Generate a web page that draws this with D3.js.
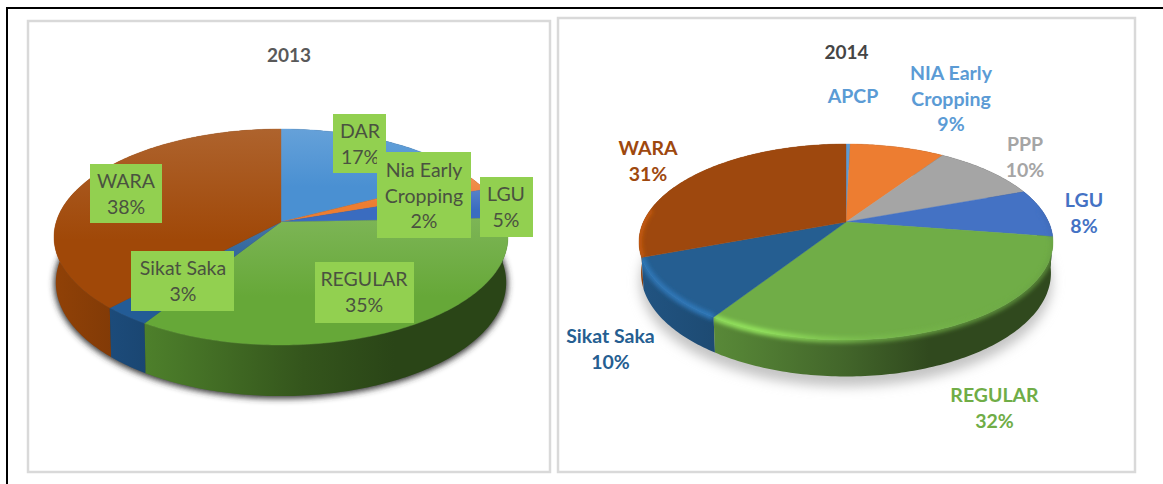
<!DOCTYPE html>
<html>
<head>
<meta charset="utf-8">
<style>
html,body{margin:0;padding:0;background:#fff;overflow:hidden}
text{font-family:Lato,"Open Sans",sans-serif}
</style>
<script src="https://cdnjs.cloudflare.com/ajax/libs/d3/7.8.5/d3.min.js"></script>
</head>
<body>
<svg id="c" width="1163" height="484"></svg>
<script>
// ---- data ----
const categories2013 = ["DAR","Nia Early Cropping","LGU","REGULAR","Sikat Saka","WARA"];
const values2013     = [17.4, 2.4, 4.6, 34.6, 3, 38];
const colors2013     = ["#4a90d2","#ed7d31","#3a6cc0","#66a838","#235c96","#a04808"];
const labelLines2013 = [["DAR","17%"],["Nia Early","Cropping","2%"],["LGU","5%"],["REGULAR","35%"],["Sikat Saka","3%"],["WARA","38%"]];

const categories2014 = ["APCP","NIA Early Cropping","PPP","LGU","REGULAR","Sikat Saka","WARA"];
const values2014     = [0.4, 9, 10, 8, 31.7, 10.2, 30.7];
const colors2014     = ["#5b9bd5","#ed7d31","#a5a5a5","#4472c4","#70ad47","#255e91","#9e480e"];
const labelLines2014 = [["APCP"],["NIA Early","Cropping","9%"],["PPP","10%"],["LGU","8%"],["REGULAR","32%"],["Sikat Saka","10%"],["WARA","31%"]];
const labelColors2014 = ["#5b9bd5","#5b9bd5","#a5a5a5","#4472c4","#70ad47","#255e91","#9e480e"];

// ---- layout (not data) ----
const boxes2013 = [[333,114,53,59],[377,152,94,86],[480,177,53,60],[315,262,99,61],[131,251,103,60],[90,164,72,59]];
const textAt2013 = [[360,138],[424,177],[506,201],[364,286],[183,275],[126,188]];
const textAt2014 = [[853,103],[951,80],[1025,151],[1084,207],[994.5,402],[610.5,343],[648,155]];
const lineStep = 25.5;

const svg = d3.select("#c");
const defs = svg.append("defs");
const blur = (id, s) => defs.append("filter").attr("id", id)
  .attr("filterUnits","userSpaceOnUse").attr("x",0).attr("y",0).attr("width",1163).attr("height",484)
  .append("feGaussianBlur").attr("stdDeviation", s);
blur("b2",2); blur("b3",3); blur("b6",6);

svg.append("rect").attr("width",1163).attr("height",484).attr("fill","#fff");
// outer black frame
svg.append("path").attr("d", d3.line()([[7,484],[7,8],[1163,8]]))
  .attr("fill","none").attr("stroke","#000").attr("stroke-width",2);
// panels
[[28,21,522,451],[558,18,577,454]].forEach(p=>{
  svg.append("rect").attr("x",p[0]).attr("y",p[1]).attr("width",p[2]).attr("height",p[3])
    .attr("fill","#fff").attr("stroke","#d9d9d9").attr("stroke-width",2.5);
});

function pie3d(o){
  const g = svg.append("g");
  const A = o.rx*Math.sqrt(1-o.k*o.k), B = o.back*(1+o.k);
  // perspective projection of the unit-disc point at clockwise-from-top angle a
  const pt = a => {
    const u = Math.sin(a), v = -Math.cos(a), den = 1-o.k*v;
    return [o.cx + A*u/den, o.cy + B*v/den];
  };
  const low = a => {
    const u = Math.sin(a), v = -Math.cos(a), den = 1-o.k*v;
    return [o.cx + o.shrink*A*u/den, o.cy + o.shrink*B*v/den + o.depth/den];
  };
  const arcs = d3.pie().sort(null).startAngle(0).endAngle(2*Math.PI)(o.values);
  const samples = (a0,a1) => { const n=Math.max(2,Math.ceil((a1-a0)*60));
    return d3.range(n+1).map(i=>a0+(a1-a0)*i/n); };
  const line = d3.line();
  const wallPath = (a0,a1) => {
    const s = samples(a0,a1);
    return line(s.map(pt).concat(s.slice().reverse().map(low)))+"Z";
  };
  const topPath = (a0,a1) => line([[o.cx,o.cy]].concat(samples(a0,a1).map(pt)))+"Z";
  const all = samples(0,2*Math.PI);
  const id = o.id;

  // shadow below the pie
  g.append("path").attr("d",line(all.map(low))+"Z").attr("fill",o.shadow.color).attr("stroke",o.shadow.color)
    .attr("stroke-width",o.shadow.spread).attr("transform",`translate(0,${o.shadow.dy})`)
    .attr("filter",`url(#${o.shadow.filter})`);

  // wall shading across the pie width
  arcs.forEach((d,i)=>{
    const c = o.colors[i];
    const gr = defs.append("linearGradient").attr("id",`${id}w${i}`).attr("gradientUnits","userSpaceOnUse")
      .attr("x1",o.cx-o.rx).attr("x2",o.cx+o.rx).attr("y1",0).attr("y2",0);
    o.wallStops.forEach(s=>gr.append("stop").attr("offset",s[0]).attr("stop-color",d3.color(c).darker(s[1]).formatHex()));
  });
  // walls, back to front
  const order = d3.range(arcs.length).sort((p,q)=>
    (-Math.cos((arcs[p].startAngle+arcs[p].endAngle)/2))-(-Math.cos((arcs[q].startAngle+arcs[q].endAngle)/2)));
  order.forEach(i=>{
    const d = arcs[i];
    g.append("path").attr("d",wallPath(d.startAngle,d.endAngle)).attr("fill",`url(#${id}w${i})`);
  });
  // top surface
  arcs.forEach((d,i)=>{
    const c = o.colors[i];
    let fill = c;
    if(o.sheen){
      const gr = defs.append("linearGradient").attr("id",`${id}t${i}`).attr("x1",0).attr("x2",0).attr("y1",0).attr("y2",1);
      gr.append("stop").attr("offset",0).attr("stop-color",d3.interpolateRgb(c,"#fff")(0.15));
      gr.append("stop").attr("offset",0.62).attr("stop-color",c);
      fill = `url(#${id}t${i})`;
    }
    g.append("path").attr("d",topPath(d.startAngle,d.endAngle)).attr("fill",fill).attr("stroke",fill).attr("stroke-width",0.4);
  });
  // soft bevel along the rim
  if(o.bevel){
    arcs.forEach((d,i)=>{
      const s = samples(d.startAngle,d.endAngle).filter(a=>-Math.cos(a)>-0.15);
      if(s.length<2) return;
      const cp = defs.append("clipPath").attr("id",`${id}c${i}`);
      cp.append("path").attr("d",wallPath(d.startAngle,d.endAngle));
      cp.append("path").attr("d",topPath(d.startAngle,d.endAngle));
      const c = d3.color(o.colors[i]);
      const gr = defs.append("linearGradient").attr("id",`${id}r${i}`).attr("gradientUnits","userSpaceOnUse")
        .attr("x1",o.cx-o.rx).attr("x2",o.cx+o.rx).attr("y1",0).attr("y2",0);
      o.bevelStops.forEach(b=>gr.append("stop").attr("offset",b[0])
        .attr("stop-color",c.brighter(b[1]).formatHex()).attr("stop-opacity",b[2]));
      g.append("g").attr("clip-path",`url(#${id}c${i})`).append("path")
        .attr("d",line(s.map(pt))).attr("fill","none")
        .attr("stroke",`url(#${id}r${i})`).attr("stroke-width",6)
        .attr("filter","url(#b2)");
    });
  }
}

// 2013
pie3d({id:"a",values:values2013,colors:colors2013,cx:281,cy:222,rx:227,back:93,k:0.139,depth:44.8,shrink:0.992,
  sheen:true,bevel:false,
  wallStops:[[0,0.3],[0.25,0.9],[0.55,1.9],[0.75,2.5],[1,2.5]],
  shadow:{color:"#333",spread:3,dy:1,filter:"b3"}});
// 2014
pie3d({id:"b",values:values2014,colors:colors2014,cx:846,cy:222,rx:207,back:78,k:0.204,depth:30,shrink:0.99,
  sheen:false,bevel:true,
  bevelStops:[[0,0.7,0.9],[0.3,0.8,1],[0.55,0.3,0.7],[1,-0.2,0.7]],
  wallStops:[[0,0.3],[0.25,0.8],[0.5,1.5],[0.7,2.4],[1,2.4]],
  shadow:{color:"#c4c4c4",spread:2,dy:9,filter:"b6"}});

// titles
svg.append("text").attr("x",289).attr("y",62).attr("text-anchor","middle").attr("font-size",19).attr("font-weight",700).attr("fill","#595959").text("2013");
svg.append("text").attr("x",846.5).attr("y",59).attr("text-anchor","middle").attr("font-size",19).attr("font-weight",700).attr("fill","#454545").text("2014");

// 2013 labels: boxed
const order2013 = [5,4,3,0,1,2];
order2013.forEach(i=>{
  const b = boxes2013[i];
  svg.append("rect").attr("x",b[0]).attr("y",b[1]).attr("width",b[2]).attr("height",b[3]).attr("fill","#92d050");
  labelLines2013[i].forEach((t,j)=>{
    svg.append("text").attr("x",textAt2013[i][0]).attr("y",textAt2013[i][1]+j*lineStep)
      .attr("text-anchor","middle").attr("font-size",19.5).attr("fill","#4a5240").text(t);
  });
});
// 2014 labels: coloured
labelLines2014.forEach((lines,i)=>{
  lines.forEach((t,j)=>{
    svg.append("text").attr("x",textAt2014[i][0]).attr("y",textAt2014[i][1]+j*lineStep+(j>0?0.3:0))
      .attr("text-anchor","middle").attr("font-size",19.5).attr("font-weight",700).attr("fill",labelColors2014[i]).text(t);
  });
});
</script>
</body>
</html>
